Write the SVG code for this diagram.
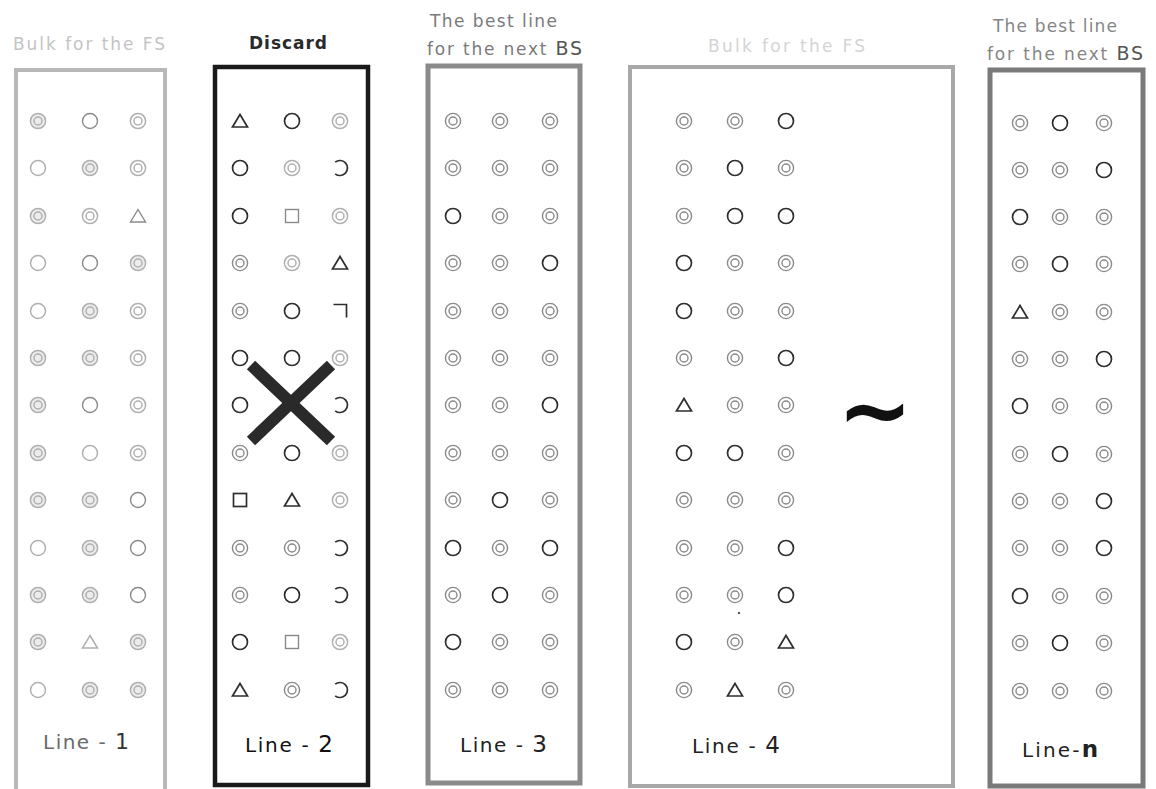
<svg xmlns="http://www.w3.org/2000/svg" xmlns:xlink="http://www.w3.org/1999/xlink" width="1156" height="789" viewBox="0 0 1156 789">
<style>
.k{stroke:#2e2e2e;stroke-width:1.7;fill:none}
.g{stroke:#8a8a8a;stroke-width:1.4;fill:none}
.l{stroke:#b0b0b0;stroke-width:1.5;fill:none}
.lf{stroke:#b0b0b0;stroke-width:1.5;fill:#ececec}
.box{fill:none}
.hd{font-family:"DejaVu Sans","Liberation Sans",sans-serif}
.lb{font-family:"DejaVu Sans","Liberation Sans",sans-serif;font-size:20px}
</style>
<defs>
<g id="o"><circle r="7.5"/></g>
<g id="d"><circle r="7.6"/><circle r="4"/></g>
<g id="t"><polygon points="0,-6.5 7.5,6 -7.5,6"/></g>
<g id="s"><rect x="-6.5" y="-6.5" width="13" height="13"/></g>
<g id="c"><path d="M -4.8 -5.8 A 7.5 7.5 0 1 1 -4.8 5.8"/></g>
<g id="q"><path d="M -6.5 -6.5 H 6.5 V 6.5"/></g>
<filter id="blur" x="-10%" y="-10%" width="120%" height="120%"><feGaussianBlur stdDeviation="0.6"/></filter>
</defs>
<rect width="1156" height="789" fill="#ffffff"/>

<!-- Line 1 -->
<g id="line1">
<text class="hd" x="13" y="50" font-size="17" fill="#c4c4c4" textLength="152" lengthAdjust="spacing">Bulk for the FS</text>
<rect class="box" x="16" y="70" width="149" height="740" stroke="#b8b8b8" stroke-width="4"/>
<g filter="url(#blur)">
<use href="#d" x="38" y="121" class="lf"/><use href="#o" x="90" y="121" class="g"/><use href="#d" x="138" y="121" class="l"/>
<use href="#o" x="38" y="168" class="l"/><use href="#d" x="90" y="168" class="lf"/><use href="#d" x="138" y="168" class="l"/>
<use href="#d" x="38" y="216" class="lf"/><use href="#d" x="90" y="216" class="l"/><use href="#t" x="138" y="216" class="g"/>
<use href="#o" x="38" y="263" class="l"/><use href="#o" x="90" y="263" class="g"/><use href="#d" x="138" y="263" class="lf"/>
<use href="#o" x="38" y="311" class="l"/><use href="#d" x="90" y="311" class="lf"/><use href="#d" x="138" y="311" class="l"/>
<use href="#d" x="38" y="358" class="lf"/><use href="#d" x="90" y="358" class="lf"/><use href="#d" x="138" y="358" class="l"/>
<use href="#d" x="38" y="405" class="lf"/><use href="#o" x="90" y="405" class="g"/><use href="#d" x="138" y="405" class="l"/>
<use href="#d" x="38" y="453" class="lf"/><use href="#o" x="90" y="453" class="l"/><use href="#d" x="138" y="453" class="l"/>
<use href="#d" x="38" y="500" class="lf"/><use href="#d" x="90" y="500" class="lf"/><use href="#o" x="138" y="500" class="g"/>
<use href="#o" x="38" y="548" class="l"/><use href="#d" x="90" y="548" class="lf"/><use href="#o" x="138" y="548" class="g"/>
<use href="#d" x="38" y="595" class="lf"/><use href="#d" x="90" y="595" class="lf"/><use href="#o" x="138" y="595" class="g"/>
<use href="#d" x="38" y="642" class="lf"/><use href="#t" x="90" y="642" class="l"/><use href="#d" x="138" y="642" class="lf"/>
<use href="#o" x="38" y="690" class="l"/><use href="#d" x="90" y="690" class="lf"/><use href="#d" x="138" y="690" class="lf"/>
</g>
<text class="lb" x="43" y="749" fill="#6a6a6a" textLength="86" lengthAdjust="spacing">Line - <tspan fill="#333" font-size="22">1</tspan></text>
</g>

<!-- Line 2 -->
<g id="line2">
<text class="hd" x="249" y="49" font-size="17" font-weight="bold" fill="#2a2a2a" textLength="78" lengthAdjust="spacing">Discard</text>
<rect class="box" x="215" y="67" width="153" height="718" stroke="#1a1a1a" stroke-width="4.5"/>
<use href="#t" x="240" y="121" class="k"/><use href="#o" x="292" y="121" class="k"/><use href="#d" x="340" y="121" class="l"/>
<use href="#o" x="240" y="168" class="k"/><use href="#d" x="292" y="168" class="l"/><use href="#c" x="340" y="168" class="k"/>
<use href="#o" x="240" y="216" class="k"/><use href="#s" x="292" y="216" class="g"/><use href="#d" x="340" y="216" class="l"/>
<use href="#d" x="240" y="263" class="g"/><use href="#d" x="292" y="263" class="l"/><use href="#t" x="340" y="263" class="k"/>
<use href="#d" x="240" y="311" class="g"/><use href="#o" x="292" y="311" class="k"/><use href="#q" x="340" y="311" class="k"/>
<use href="#o" x="240" y="358" class="k"/><use href="#o" x="292" y="358" class="k"/><use href="#d" x="340" y="358" class="l"/>
<use href="#o" x="240" y="405" class="k"/><use href="#c" x="340" y="405" class="k"/>
<use href="#d" x="240" y="453" class="g"/><use href="#o" x="292" y="453" class="k"/><use href="#d" x="340" y="453" class="l"/>
<use href="#s" x="240" y="500" class="k"/><use href="#t" x="292" y="500" class="k"/><use href="#d" x="340" y="500" class="l"/>
<use href="#d" x="240" y="548" class="g"/><use href="#d" x="292" y="548" class="g"/><use href="#c" x="340" y="548" class="k"/>
<use href="#d" x="240" y="595" class="g"/><use href="#o" x="292" y="595" class="k"/><use href="#c" x="340" y="595" class="k"/>
<use href="#o" x="240" y="642" class="k"/><use href="#s" x="292" y="642" class="g"/><use href="#d" x="340" y="642" class="l"/>
<use href="#t" x="240" y="690" class="k"/><use href="#d" x="292" y="690" class="g"/><use href="#c" x="340" y="690" class="k"/>
<g stroke="#2a2a2a" stroke-width="12" stroke-linecap="butt">
<line x1="251" y1="365" x2="331" y2="441"/>
<line x1="331" y1="365" x2="251" y2="441"/>
</g>
<text class="lb" x="245" y="752" fill="#111" textLength="88" lengthAdjust="spacing">Line - <tspan font-size="23">2</tspan></text>
</g>

<!-- Line 3 -->
<g id="line3">
<text class="hd" x="430" y="27" font-size="17" fill="#7a7a7a" textLength="127" lengthAdjust="spacing">The best line</text>
<text class="hd" x="427" y="55" font-size="17" fill="#7a7a7a" textLength="155" lengthAdjust="spacing">for the next <tspan font-size="19" fill="#555">BS</tspan></text>
<rect class="box" x="428" y="66" width="152" height="717" stroke="#8a8a8a" stroke-width="5"/>
<use href="#d" x="453" y="121" class="g"/><use href="#d" x="500" y="121" class="g"/><use href="#d" x="550" y="121" class="g"/>
<use href="#d" x="453" y="168" class="g"/><use href="#d" x="500" y="168" class="g"/><use href="#d" x="550" y="168" class="g"/>
<use href="#o" x="453" y="216" class="k"/><use href="#d" x="500" y="216" class="g"/><use href="#d" x="550" y="216" class="g"/>
<use href="#d" x="453" y="263" class="g"/><use href="#d" x="500" y="263" class="g"/><use href="#o" x="550" y="263" class="k"/>
<use href="#d" x="453" y="311" class="g"/><use href="#d" x="500" y="311" class="g"/><use href="#d" x="550" y="311" class="g"/>
<use href="#d" x="453" y="358" class="g"/><use href="#d" x="500" y="358" class="g"/><use href="#d" x="550" y="358" class="g"/>
<use href="#d" x="453" y="405" class="g"/><use href="#d" x="500" y="405" class="g"/><use href="#o" x="550" y="405" class="k"/>
<use href="#d" x="453" y="453" class="g"/><use href="#d" x="500" y="453" class="g"/><use href="#d" x="550" y="453" class="g"/>
<use href="#d" x="453" y="500" class="g"/><use href="#o" x="500" y="500" class="k"/><use href="#d" x="550" y="500" class="g"/>
<use href="#o" x="453" y="548" class="k"/><use href="#d" x="500" y="548" class="g"/><use href="#o" x="550" y="548" class="k"/>
<use href="#d" x="453" y="595" class="g"/><use href="#o" x="500" y="595" class="k"/><use href="#d" x="550" y="595" class="g"/>
<use href="#o" x="453" y="642" class="k"/><use href="#d" x="500" y="642" class="g"/><use href="#d" x="550" y="642" class="g"/>
<use href="#d" x="453" y="690" class="g"/><use href="#d" x="500" y="690" class="g"/><use href="#d" x="550" y="690" class="g"/>
<text class="lb" x="460" y="752" fill="#222" textLength="87" lengthAdjust="spacing">Line - <tspan font-size="23">3</tspan></text>
</g>

<!-- Line 4 -->
<g id="line4">
<text class="hd" x="708" y="52" font-size="17" fill="#d4d4d4" textLength="157" lengthAdjust="spacing">Bulk for the FS</text>
<rect class="box" x="630" y="67" width="323" height="719" stroke="#a8a8a8" stroke-width="4"/>
<use href="#d" x="684" y="121" class="g"/><use href="#d" x="735" y="121" class="g"/><use href="#o" x="786" y="121" class="k"/>
<use href="#d" x="684" y="168" class="g"/><use href="#o" x="735" y="168" class="k"/><use href="#d" x="786" y="168" class="g"/>
<use href="#d" x="684" y="216" class="g"/><use href="#o" x="735" y="216" class="k"/><use href="#o" x="786" y="216" class="k"/>
<use href="#o" x="684" y="263" class="k"/><use href="#d" x="735" y="263" class="g"/><use href="#d" x="786" y="263" class="g"/>
<use href="#o" x="684" y="311" class="k"/><use href="#d" x="735" y="311" class="g"/><use href="#d" x="786" y="311" class="g"/>
<use href="#d" x="684" y="358" class="g"/><use href="#d" x="735" y="358" class="g"/><use href="#o" x="786" y="358" class="k"/>
<use href="#t" x="684" y="405" class="k"/><use href="#d" x="735" y="405" class="g"/><use href="#d" x="786" y="405" class="g"/>
<use href="#o" x="684" y="453" class="k"/><use href="#o" x="735" y="453" class="k"/><use href="#d" x="786" y="453" class="g"/>
<use href="#d" x="684" y="500" class="g"/><use href="#d" x="735" y="500" class="g"/><use href="#d" x="786" y="500" class="g"/>
<use href="#d" x="684" y="548" class="g"/><use href="#d" x="735" y="548" class="g"/><use href="#o" x="786" y="548" class="k"/>
<use href="#d" x="684" y="595" class="g"/><use href="#d" x="735" y="595" class="g"/><use href="#o" x="786" y="595" class="k"/>
<circle cx="739" cy="613" r="1.2" fill="#555"/>
<use href="#o" x="684" y="642" class="k"/><use href="#d" x="735" y="642" class="g"/><use href="#t" x="786" y="642" class="k"/>
<use href="#d" x="684" y="690" class="g"/><use href="#t" x="735" y="690" class="k"/><use href="#d" x="786" y="690" class="g"/>
<text x="875" y="441" font-family="DejaVu Sans, sans-serif" font-size="90" font-weight="bold" fill="#111" text-anchor="middle">~</text>
<text class="lb" x="692" y="753" fill="#222" textLength="88" lengthAdjust="spacing">Line - <tspan font-size="23">4</tspan></text>
</g>

<!-- Line n -->
<g id="linen">
<text class="hd" x="993" y="32" font-size="17" fill="#858585" textLength="124" lengthAdjust="spacing">The best line</text>
<text class="hd" x="987" y="60" font-size="17" fill="#858585" textLength="156" lengthAdjust="spacing">for the next <tspan font-size="19" fill="#555">BS</tspan></text>
<rect class="box" x="990" y="70" width="153" height="716" stroke="#7a7a7a" stroke-width="5"/>
<use href="#d" x="1020" y="123" class="g"/><use href="#o" x="1060" y="123" class="k"/><use href="#d" x="1104" y="123" class="g"/>
<use href="#d" x="1020" y="170" class="g"/><use href="#d" x="1060" y="170" class="g"/><use href="#o" x="1104" y="170" class="k"/>
<use href="#o" x="1020" y="217" class="k"/><use href="#d" x="1060" y="217" class="g"/><use href="#d" x="1104" y="217" class="g"/>
<use href="#d" x="1020" y="264" class="g"/><use href="#o" x="1060" y="264" class="k"/><use href="#d" x="1104" y="264" class="g"/>
<use href="#t" x="1020" y="312" class="k"/><use href="#d" x="1060" y="312" class="g"/><use href="#d" x="1104" y="312" class="g"/>
<use href="#d" x="1020" y="359" class="g"/><use href="#d" x="1060" y="359" class="g"/><use href="#o" x="1104" y="359" class="k"/>
<use href="#o" x="1020" y="406" class="k"/><use href="#d" x="1060" y="406" class="g"/><use href="#d" x="1104" y="406" class="g"/>
<use href="#d" x="1020" y="454" class="g"/><use href="#o" x="1060" y="454" class="k"/><use href="#d" x="1104" y="454" class="g"/>
<use href="#d" x="1020" y="501" class="g"/><use href="#d" x="1060" y="501" class="g"/><use href="#o" x="1104" y="501" class="k"/>
<use href="#d" x="1020" y="548" class="g"/><use href="#d" x="1060" y="548" class="g"/><use href="#o" x="1104" y="548" class="k"/>
<use href="#o" x="1020" y="596" class="k"/><use href="#d" x="1060" y="596" class="g"/><use href="#d" x="1104" y="596" class="g"/>
<use href="#d" x="1020" y="643" class="g"/><use href="#o" x="1060" y="643" class="k"/><use href="#d" x="1104" y="643" class="g"/>
<use href="#d" x="1020" y="691" class="g"/><use href="#d" x="1060" y="691" class="g"/><use href="#d" x="1104" y="691" class="g"/>
<text class="lb" x="1022" y="757" fill="#222" textLength="76" lengthAdjust="spacing">Line-<tspan font-size="23" font-weight="bold">n</tspan></text>
</g>
</svg>
